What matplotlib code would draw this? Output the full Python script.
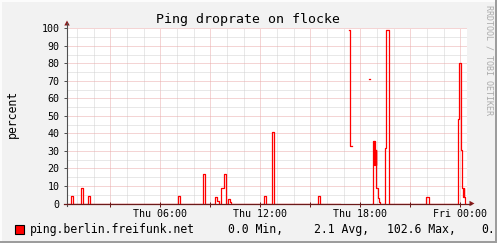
import matplotlib
matplotlib.use('Agg')
import matplotlib.pyplot as plt
import numpy as np
from matplotlib.patches import Rectangle, Polygon
from matplotlib.lines import Line2D
from matplotlib.ticker import MultipleLocator, FuncFormatter

# ---- data: drop rate (percent), step series, hours since Thu 00:00 ----
nan = np.nan
t_hours = [0.40, 0.64, 0.76, 1.22, 1.36, 1.66, 1.78, 7.08, 7.20, 8.56, 8.68,
           9.28, 9.40, 9.52, 9.64, 9.80, 9.94, 10.06, 10.18, 10.24,
           12.22, 12.34, 12.70, 12.82, 15.46, 15.58, 16.80,
           17.32, 17.38, 17.50, 18.52, 18.60, 18.70,
           18.76, 18.82, 18.85, 18.88, 18.90, 18.93, 18.95, 18.97,
           19.08, 19.14, 19.20, 19.48, 19.54, 19.72,
           21.92, 22.12, 23.88, 23.92, 24.04, 24.08, 24.12, 24.16,
           24.20, 24.24, 24.27, 24.40]
drop_pct = [0.0, 4.3, 0.0, 8.9, 0.0, 4.3, 0.0, 4.2, 0.0, 16.9, 0.0,
            3.6, 1.3, 0.0, 8.7, 16.9, 0.0, 2.5, 0.8, 0.0,
            4.2, 0.0, 40.8, 0.0, 4.2, 0.0, nan,
            99.0, 32.8, nan, 71.0, nan, 0.0,
            35.6, 22.0, 35.6, 22.0, 30.5, 22.0, 30.5, 8.6,
            2.9, 1.0, 0.0, 31.4, 99.0, 0.0,
            3.8, 0.0, 48.0, 80.0, 30.5, 17.5, 8.6, 3.8,
            8.6, 3.8, 0.0, 0.0]

x_label_pos = [6, 12, 18, 24]
x_labels = ['Thu 06:00', 'Thu 12:00', 'Thu 18:00', 'Fri 00:00']
legend_name = 'ping.berlin.freifunk.net'
legend_stats = ['0.0 Min,', '2.1 Avg,', '102.6 Max,', '0.']
##########################################

plt.rcParams['font.family'] = 'DejaVu Sans Mono'

W, H = 497, 243
def fx(x):
    return x / W
def fy(y):
    return 1 - y / H

fig = plt.figure(figsize=(W / 100, H / 100), dpi=100, facecolor='#F2F2F2')
x0, x1, ytop, ybot = 67, 467, 28.3, 203.5
ax = fig.add_axes([fx(x0), fy(ybot), (x1 - x0) / W, (ybot - ytop) / H])
ax.set_facecolor('white')
for s in ax.spines.values():
    s.set_visible(False)

ax.plot(t_hours, drop_pct, drawstyle='steps-post', color='#FF0000', lw=0.9, zorder=3)

ax.set_xlim(0.4, 24.4)
ax.set_ylim(0, 100)
ax.xaxis.set_major_locator(MultipleLocator(3))
ax.xaxis.set_minor_locator(MultipleLocator(1))
lab = dict(zip(x_label_pos, x_labels))
ax.xaxis.set_major_formatter(FuncFormatter(lambda v, p: lab.get(int(round(v)), '')))
ax.yaxis.set_major_locator(MultipleLocator(10))
ax.yaxis.set_minor_locator(MultipleLocator(5))
ax.yaxis.set_major_formatter(FuncFormatter(lambda v, p: '%d' % v))

ax.grid(which='major', color='#EBAAAA', linestyle=(0, (1, 1)), lw=0.72, zorder=1)
ax.grid(which='minor', color='#D2D2D2', linestyle=(0, (1, 1)), lw=0.72, zorder=0)
ax.set_axisbelow(True)

ax.tick_params(axis='y', which='major', length=2.2, width=0.72, color='#505050',
               pad=3.2, labelsize=7.2)
ax.tick_params(axis='x', which='major', direction='inout', length=3.6, width=0.72,
               color='#6B1A1A', pad=2.0, labelsize=7.2)
ax.tick_params(which='minor', length=0)

# axis lines and arrows
fig.add_artist(Line2D([fx(67), fx(67)], [fy(206), fy(23)], color='#505050', lw=0.8))
fig.add_artist(Line2D([fx(64), fx(471)], [fy(203.5), fy(203.5)], color='#6B1A1A', lw=0.9))
fig.add_artist(Polygon([[fx(64.3), fy(25.5)], [fx(69.7), fy(25.5)], [fx(67), fy(20.5)]],
                       closed=True, color='#8B1A1A', lw=0))
fig.add_artist(Polygon([[fx(469.5), fy(200.8)], [fx(469.5), fy(206.2)], [fx(474.5), fy(203.5)]],
                       closed=True, color='#8B1A1A', lw=0))

# texts
fig.text(0.5, fy(22.5), 'Ping droprate on flocke', ha='center', va='baseline', fontsize=9.5)
fig.text(fx(12.5), fy(113.5), 'percent', rotation=90, ha='center', va='center', fontsize=8.3)
fig.text(fx(488.5), fy(60), 'RRDTOOL / TOBI OETIKER', rotation=270, ha='center', va='center',
         fontsize=6.0, color='#ABABAB')

# legend
fig.add_artist(Rectangle((fx(15), fy(234)), 9 / W, 9.5 / H, facecolor='#FF0000',
                         edgecolor='black', lw=0.8))
fig.text(fx(30.3), fy(232.7), legend_name, ha='left', va='baseline', fontsize=8.3)
for xs, s in zip([228.3, 314.3, 387.3, 481.0], legend_stats):
    fig.text(fx(xs), fy(232.7), s, ha='left', va='baseline', fontsize=8.3)

# 3d frame
fig.add_artist(Rectangle((0, 0), 1, 2 / H, facecolor='#9D9D9D', lw=0, zorder=10))
fig.add_artist(Rectangle((1 - 2 / W, 0), 2 / W, 1, facecolor='#9D9D9D', lw=0, zorder=10))
fig.add_artist(Rectangle((0, 1 - 2 / H), 1 - 2 / W, 2 / H, facecolor='#FCFCFC', lw=0, zorder=10))
fig.add_artist(Rectangle((0, 2 / H), 2 / W, 1 - 2 / H, facecolor='#FCFCFC', lw=0, zorder=10))

fig.savefig('out.png', dpi=100, facecolor=fig.get_facecolor())
